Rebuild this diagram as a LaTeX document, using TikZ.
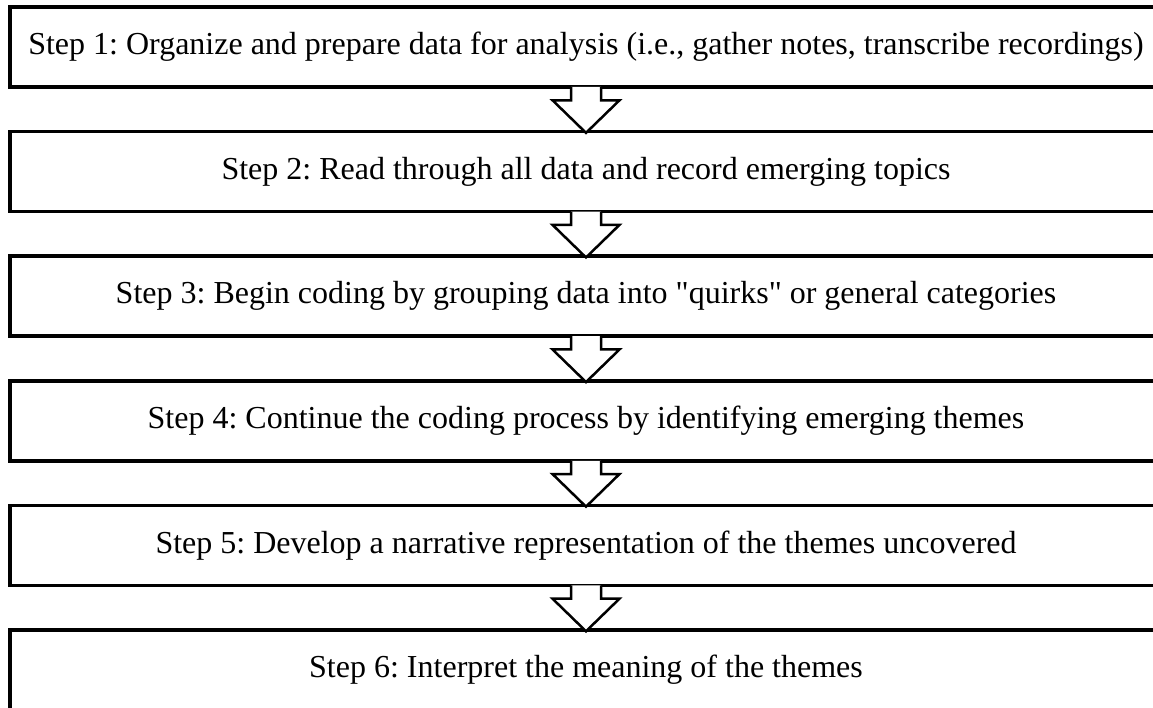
\documentclass[tikz,border=0pt]{standalone}
\usepackage{fontspec}
\setmainfont{Liberation Serif}[Ligatures=TeXOff]
\usetikzlibrary{calc}

\tikzset{
  stepbox/.style={draw=black, line width=3.5pt, fill=white, inner sep=0pt,
    minimum width=1152pt, minimum height=80pt, anchor=center,
    font=\fontsize{32pt}{37pt}\selectfont},
  arrowline/.style={draw=black, line width=2.5pt, line join=miter},
}

% Hollow block arrow from the bottom of box #1 down to the top of box #2
\newcommand{\flowarrow}[2]{%
  \fill[white]
    ($(#1.south)+(-15,-1.8)$) -- ($(#1.south)+(-15,11.5)$) --
    ($(#1.south)+(-33.5,11.5)$) -- ($(#2.north)+(0,3)$) --
    ($(#1.south)+(33.5,11.5)$) -- ($(#1.south)+(15,11.5)$) --
    ($(#1.south)+(15,-1.8)$) -- cycle;
  \draw[arrowline]
    ($(#1.south)+(-15,-1.8)$) -- ($(#1.south)+(-15,11.5)$) --
    ($(#1.south)+(-33.5,11.5)$) -- ($(#2.north)+(0,3)$) --
    ($(#1.south)+(33.5,11.5)$) -- ($(#1.south)+(15,11.5)$) --
    ($(#1.south)+(15,-1.8)$);
}

\begin{document}
\frenchspacing
\begin{tikzpicture}[x=1pt, y=-1pt]
  \useasboundingbox (0,0) rectangle (1153,707);

  \node[stepbox] (s1) at (586, 47.0) {Step 1: Organize and prepare data for analysis (i.e., gather notes, transcribe recordings)};
  \node[stepbox] (s2) at (586, 171.6) {Step 2: Read through all data and record emerging topics};
  \node[stepbox] (s3) at (586, 296.2) {Step 3: Begin coding by grouping data into "quirks" or general categories};
  \node[stepbox] (s4) at (586, 420.8) {Step 4: Continue the coding process by identifying emerging themes};
  \node[stepbox] (s5) at (586, 545.4) {Step 5: Develop a narrative representation of the themes uncovered};
  \node[stepbox] (s6) at (586, 670.0) {Step 6: Interpret the meaning of the themes};

  \flowarrow{s1}{s2}
  \flowarrow{s2}{s3}
  \flowarrow{s3}{s4}
  \flowarrow{s4}{s5}
  \flowarrow{s5}{s6}
\end{tikzpicture}
\end{document}
